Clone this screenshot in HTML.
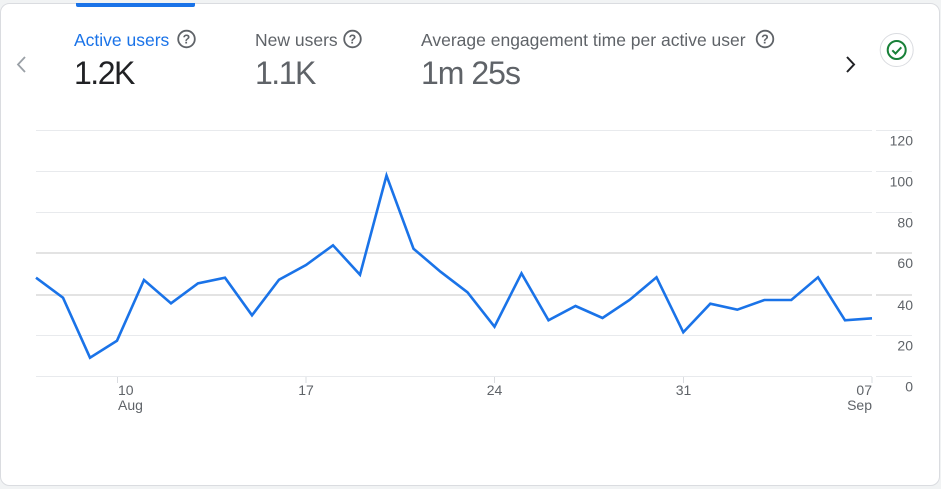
<!DOCTYPE html>
<html><head><meta charset="utf-8"><style>
html,body{margin:0;padding:0;background:#f1f3f4;}
svg{display:block;font-family:"Liberation Sans",Arial,sans-serif;}
</style></head><body>
<svg width="941" height="489" viewBox="0 0 941 489" xmlns="http://www.w3.org/2000/svg">
<rect x="0" y="0" width="941" height="489" fill="#f1f3f4"/>
<rect x="0.5" y="3.5" width="939" height="482" rx="9" ry="9" fill="#ffffff" stroke="#dadce0" stroke-width="1"/>
<path d="M76 3 H195 V5 Q195 7 193 7 H78 Q76 7 76 5 Z" fill="#1a73e8"/>
<text x="74" y="46" font-size="17.5" fill="#1a73e8">Active users</text>
<text x="74" y="84" font-size="32" fill="#202124" letter-spacing="-1.5">1.2K</text>
<text x="255" y="46" font-size="17.5" fill="#5f6368">New users</text>
<text x="255" y="84" font-size="32" fill="#5f6368" letter-spacing="-1.5">1.1K</text>
<text x="421" y="46" font-size="17.5" fill="#5f6368">Average engagement time per active user</text>
<text x="421" y="84" font-size="32" fill="#5f6368" letter-spacing="-1">1m 25s</text>
<g fill="none" stroke="#5f6368" stroke-width="1.8">
<circle cx="186.5" cy="39" r="8.3"/>
<circle cx="352.5" cy="39" r="8.3"/>
<circle cx="765" cy="39" r="8.3"/>
</g>
<g font-size="12.5" font-weight="bold" fill="#5f6368" text-anchor="middle">
<text x="186.5" y="43.5">?</text>
<text x="352.5" y="43.5">?</text>
<text x="765" y="43.5">?</text>
</g>
<polyline points="25,57 18,64.5 25,72" fill="none" stroke="#9aa0a6" stroke-width="1.8"/>
<polyline points="847,57 854,64.5 847,72" fill="none" stroke="#202124" stroke-width="2"/>
<circle cx="896.7" cy="50" r="16.5" fill="#fff" stroke="#dadce0" stroke-width="1"/>
<circle cx="896.7" cy="50" r="9" fill="none" stroke="#188038" stroke-width="2"/>
<polyline points="892.3,50.3 895.5,53.5 901.3,47.3" fill="none" stroke="#188038" stroke-width="2"/>
<g stroke="#e8eaed" stroke-width="1">
<line x1="36" y1="130.5" x2="872" y2="130.5"/><line x1="876" y1="130.5" x2="912" y2="130.5"/>
<line x1="36" y1="171.5" x2="872" y2="171.5"/><line x1="876" y1="171.5" x2="912" y2="171.5"/>
<line x1="36" y1="212.5" x2="872" y2="212.5"/><line x1="876" y1="212.5" x2="912" y2="212.5"/>
<line x1="36" y1="335.5" x2="872" y2="335.5"/><line x1="876" y1="335.5" x2="912" y2="335.5"/>
<line x1="36" y1="376.5" x2="872" y2="376.5"/><line x1="876" y1="376.5" x2="912" y2="376.5"/>
</g>
<g stroke="#e3e3e3" stroke-width="2">
<line x1="36" y1="253" x2="872" y2="253"/><line x1="876" y1="253" x2="912" y2="253"/>
<line x1="36" y1="295" x2="872" y2="295"/><line x1="876" y1="295" x2="912" y2="295"/>
</g>
<g stroke="#dadce0" stroke-width="1">
<line x1="117.5" y1="377" x2="117.5" y2="383"/>
<line x1="306" y1="377" x2="306" y2="383"/>
<line x1="494.5" y1="377" x2="494.5" y2="383"/>
<line x1="683.5" y1="377" x2="683.5" y2="383"/>
<line x1="872" y1="377" x2="872" y2="383"/>
</g>
<g font-size="14" fill="#5f6368" text-anchor="end">
<text x="913" y="145.5">120</text>
<text x="913" y="186.5">100</text>
<text x="913" y="227.5">80</text>
<text x="913" y="268">60</text>
<text x="913" y="310">40</text>
<text x="913" y="350.5">20</text>
<text x="913" y="391.5">0</text>
</g>
<g font-size="14" fill="#5f6368">
<text x="118" y="395">10</text>
<text x="118" y="410">Aug</text>
<text x="306" y="395" text-anchor="middle">17</text>
<text x="494.5" y="395" text-anchor="middle">24</text>
<text x="683.5" y="395" text-anchor="middle">31</text>
<text x="872" y="395" text-anchor="end">07</text>
<text x="872" y="410" text-anchor="end">Sep</text>
</g>
<polyline fill="none" stroke="#1a73e8" stroke-width="2.6" stroke-linejoin="miter" stroke-miterlimit="10"
points="36,277.7 63,297.7 90,357.7 117,340.7 144,280 171,303.3 198,283.3 225,277.7 252,315.3 279,279.7 306,265 333,245.3 360,274.7 386.5,175.5 413.5,248.7 440.5,271.7 467.5,292.3 494.5,326.7 521.5,273.3 548.5,320.3 575.5,306 602.5,318 629.5,300 656.5,277.3 683.3,332.3 710.3,303.7 737.3,309.7 764.3,300 791.3,300 818,277.3 845,320.3 872,318.3"/>
</svg>
</body></html>
